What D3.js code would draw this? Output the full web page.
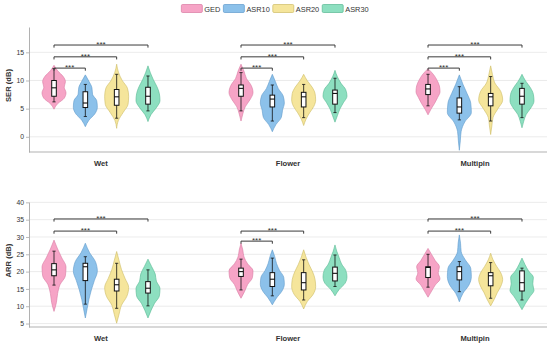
<!doctype html>
<html>
<head>
<meta charset="UTF-8">
<title>SER / ARR violins</title>
<script src="https://cdnjs.cloudflare.com/ajax/libs/d3/7.8.5/d3.min.js"></script>
<style>
  body { margin: 0; background: #ffffff; }
  text { font-family: "Liberation Sans", Arial, sans-serif; }
</style>
</head>
<body>
<script>

// -------------------------------------- data

var groups = ["Wet", "Flower", "Multipin"];
var methods = ["GED", "ASR10", "ASR20", "ASR30"];

// SER (dB) -- violin extent [min, max], by group then method
var serExtent = [
  [[4.9, 12.7], [1.8, 11.0], [1.5, 12.9], [2.7, 12.6]],
  [[2.8, 12.9], [0.9, 11.1], [2.0, 11.1], [2.6, 11.8]],
  [[3.9, 12.1], [-2.4, 11.0], [0.4, 12.6], [1.6, 11.1]]
];
// relative density, from min (first) to max (last)
var serDensity = [
  [[0, 0.3, 0.85, 1.0, 0.85, 0.95, 0.75, 0.3, 0],
   [0, 0.3, 0.8, 1.0, 0.95, 0.6, 0.55, 0.3, 0],
   [0, 0.15, 0.55, 0.95, 1.0, 0.9, 0.45, 0.15, 0],
   [0, 0.25, 0.7, 1.0, 0.95, 0.75, 0.45, 0.2, 0]],
  [[0, 0.15, 0.35, 0.75, 1.0, 0.85, 0.45, 0.25, 0],
   [0, 0.3, 0.75, 0.85, 1.0, 0.9, 0.5, 0.25, 0],
   [0, 0.2, 0.5, 0.85, 1.0, 0.95, 0.7, 0.3, 0],
   [0, 0.2, 0.4, 0.7, 1.0, 0.9, 0.5, 0.2, 0]],
  [[0, 0.25, 0.55, 0.8, 1.0, 0.95, 0.75, 0.45, 0],
   [0, 0.08, 0.15, 0.45, 1.0, 0.95, 0.65, 0.3, 0],
   [0, 0.1, 0.2, 0.6, 1.0, 0.85, 0.35, 0.15, 0],
   [0, 0.15, 0.35, 0.75, 1.0, 0.95, 0.7, 0.3, 0]]
];
// box: [whisker low, q1, median, q3, whisker high]
var serBox = [
  [[6.2, 7.2, 8.7, 10.0, 12.1], [3.6, 5.2, 6.0, 8.0, 9.3], [3.3, 5.6, 7.1, 8.4, 11.1], [4.6, 5.8, 7.2, 8.8, 10.8]],
  [[4.6, 7.2, 8.6, 9.2, 11.4], [2.8, 5.3, 6.7, 7.4, 9.2], [3.4, 5.3, 7.1, 7.9, 9.3], [4.3, 5.8, 7.7, 8.3, 10.4]],
  [[5.5, 7.5, 8.5, 9.3, 11.1], [3.0, 4.2, 5.3, 6.9, 8.9], [2.8, 5.5, 7.1, 7.7, 10.7], [3.4, 5.8, 7.2, 8.6, 9.5]]
];
// significance brackets: [group, from, to, level]
var serSig = [
  ["Wet", "GED", "ASR10", 12.2], ["Wet", "GED", "ASR20", 14.2], ["Wet", "GED", "ASR30", 16.3],
  ["Flower", "GED", "ASR10", 12.2], ["Flower", "GED", "ASR20", 14.2], ["Flower", "GED", "ASR30", 16.3],
  ["Multipin", "GED", "ASR10", 12.2], ["Multipin", "GED", "ASR20", 14.2], ["Multipin", "GED", "ASR30", 16.3]
];
var serTicks = [0, 5, 10, 15];

// ARR (dB)
var arrExtent = [
  [[8.5, 29.1], [6.6, 28.2], [5.1, 25.8], [6.6, 23.6]],
  [[12.3, 28.2], [10.4, 26.3], [9.2, 26.3], [13.0, 27.7]],
  [[12.6, 26.7], [11.3, 30.6], [10.1, 25.3], [9.0, 23.9]]
];
var arrDensity = [
  [[0, 0.2, 0.3, 0.5, 0.95, 1.0, 0.65, 0.3, 0],
   [0, 0.15, 0.3, 0.5, 0.75, 1.0, 0.85, 0.35, 0],
   [0, 0.2, 0.4, 0.85, 1.0, 0.7, 0.4, 0.2, 0],
   [0, 0.25, 0.55, 0.95, 1.0, 0.7, 0.6, 0.3, 0]],
  [[0, 0.3, 0.55, 0.95, 1.0, 0.55, 0.25, 0.15, 0],
   [0, 0.35, 0.8, 1.0, 0.95, 0.6, 0.35, 0.2, 0],
   [0, 0.3, 0.8, 1.0, 0.95, 0.75, 0.45, 0.2, 0],
   [0, 0.35, 0.85, 1.0, 0.9, 0.55, 0.35, 0.15, 0]],
  [[0, 0.3, 0.6, 1.0, 0.85, 0.95, 0.6, 0.3, 0],
   [0, 0.3, 0.8, 1.0, 0.95, 0.5, 0.15, 0.1, 0],
   [0, 0.3, 0.55, 0.85, 1.0, 0.85, 0.5, 0.2, 0],
   [0, 0.3, 0.65, 1.0, 0.9, 0.95, 0.55, 0.25, 0]]
];
var arrBox = [
  [[16.1, 18.8, 20.5, 22.3, 25.9], [10.6, 17.4, 21.4, 22.4, 24.3], [9.4, 14.4, 16.2, 17.8, 22.4], [10.1, 13.8, 15.2, 17.1, 20.5]],
  [[14.7, 18.6, 20.0, 21.0, 23.6], [13.0, 15.7, 17.8, 19.7, 23.9], [11.8, 14.7, 16.8, 19.7, 23.4], [15.7, 17.3, 19.5, 21.3, 24.8]],
  [[15.5, 18.3, 21.2, 21.4, 25.0], [14.2, 17.6, 20.0, 21.4, 22.9], [12.3, 15.9, 18.8, 19.7, 22.6], [11.8, 14.4, 16.8, 20.2, 21.0]]
];
var arrSig = [
  ["Wet", "GED", "ASR20", 31.7], ["Wet", "GED", "ASR30", 35.2],
  ["Flower", "GED", "ASR10", 28.8], ["Flower", "GED", "ASR20", 31.7],
  ["Multipin", "GED", "ASR20", 31.7], ["Multipin", "GED", "ASR30", 35.2]
];
var arrTicks = [5, 10, 15, 20, 25, 30, 35, 40];

// -------------------------------------- colors

var fill_cols = { GED: "#f6a4c6", ASR10: "#8cc1ea", ASR20: "#f5e59b", ASR30: "#8ddfc0" };
var edge_cols = { GED: "#d87aa2", ASR10: "#5f9acb", ASR20: "#cdbc65", ASR30: "#58b892" };
var grid_col = "#e6e6e6";
var spine_col = "#a8a8a8";
var text_col = "#333333";

// -------------------------------------- svg

var W = 550, H = 345;
var left = 29, right = 547;

var svg = d3.select("body").append("svg")
  .attr("width", W)
  .attr("height", H)
  .style("display", "block");

var x = d3.scalePoint()
  .domain(groups)
  .range([left, right])
  .padding(0.385);

var hue = d3.scaleBand()
  .domain(methods)
  .range([-0.335 * x.step(), 0.335 * x.step()]);

var halfW = d3.scaleLinear().domain([0, 1]).range([0, 12]);

function cx(g, m) { return x(g) + hue(m) + hue.bandwidth() / 2; }

// -------------------------------------- legend

var legend = svg.append("g");
var lx = 0;
methods.forEach(function(m) {
  var item = legend.append("g").attr("transform", "translate(" + lx + ",0)");
  item.append("rect")
    .attr("x", 0).attr("y", 4.5)
    .attr("width", 21).attr("height", 8)
    .attr("rx", 1.2)
    .style("fill", fill_cols[m])
    .style("stroke", edge_cols[m])
    .style("stroke-width", 0.7);
  var t = item.append("text")
    .attr("x", 23).attr("y", 11.6)
    .text(m)
    .style("font-size", "7.4px")
    .style("fill", text_col);
  lx += 23 + t.node().getComputedTextLength() + 3;
});
legend.attr("transform", "translate(" + ((W - (lx - 3)) / 2) + ",0)");

// -------------------------------------- panels

var panels = [
  { label: "SER (dB)", ext: serExtent, dens: serDensity, box: serBox, sig: serSig,
    ticks: serTicks, domain: [-2.7, 19.5], top: 27, bottom: 152 },
  { label: "ARR (dB)", ext: arrExtent, dens: arrDensity, box: arrBox, sig: arrSig,
    ticks: arrTicks, domain: [4.0, 40.1], top: 202, bottom: 327 }
];

panels.forEach(drawPanel);

function drawPanel(p) {
  var y = d3.scaleLinear().domain(p.domain).range([p.bottom, p.top]);
  var g = svg.append("g");

  // grid
  g.selectAll("line.grid")
    .data(p.ticks)
    .enter().append("line")
    .attr("class", "grid")
    .attr("x1", left).attr("x2", right)
    .attr("y1", d => y(d)).attr("y2", d => y(d))
    .style("stroke", grid_col)
    .style("stroke-width", 0.8);

  // y axis
  var ax = g.append("g")
    .attr("transform", "translate(" + left + ",0)")
    .call(d3.axisLeft(y).tickValues(p.ticks).tickSize(3).tickSizeOuter(0).tickPadding(2));
  ax.select(".domain").style("stroke", spine_col).style("stroke-width", 0.9);
  ax.selectAll(".tick line").style("stroke", spine_col).style("stroke-width", 0.8);
  ax.selectAll(".tick text")
    .style("font-family", "'Liberation Sans', Arial, sans-serif")
    .style("font-size", "6.8px")
    .style("fill", text_col);

  // bottom spine
  g.append("line")
    .attr("x1", left).attr("x2", right)
    .attr("y1", p.bottom).attr("y2", p.bottom)
    .style("stroke", spine_col)
    .style("stroke-width", 0.9);

  // y label
  g.append("text")
    .attr("transform", "translate(11," + ((p.top + p.bottom) / 2 - 4) + ") rotate(-90)")
    .attr("text-anchor", "middle")
    .text(p.label)
    .style("font-size", "7.6px")
    .style("font-weight", "bold")
    .style("fill", text_col);

  // category labels
  g.selectAll("text.cat")
    .data(groups)
    .enter().append("text")
    .attr("class", "cat")
    .attr("x", d => x(d))
    .attr("y", p.bottom + 14)
    .attr("text-anchor", "middle")
    .text(d => d)
    .style("font-size", "7.6px")
    .style("font-weight", "bold")
    .style("fill", text_col);

  // violins
  var cells = [];
  groups.forEach(function(gr, gi) {
    methods.forEach(function(m, mi) {
      var ext = p.ext[gi][mi], dens = p.dens[gi][mi];
      var step = (ext[1] - ext[0]) / (dens.length - 1);
      cells.push({
        group: gr, method: m, box: p.box[gi][mi],
        prof: dens.map((d, i) => ({ v: ext[0] + i * step, w: d }))
      });
    });
  });

  var area = d3.area()
    .curve(d3.curveMonotoneY)
    .y(d => y(d.v));

  g.selectAll("path.violin")
    .data(cells)
    .enter().append("path")
    .attr("class", "violin")
    .attr("d", function(c) {
      var c0 = cx(c.group, c.method);
      return area.x0(d => c0 - halfW(d.w)).x1(d => c0 + halfW(d.w))(c.prof);
    })
    .style("fill", c => fill_cols[c.method])
    .style("stroke", c => edge_cols[c.method])
    .style("stroke-width", 0.6);

  // boxes
  var bw = 4.6, cap = 1.6;
  var boxes = g.selectAll("g.box")
    .data(cells)
    .enter().append("g")
    .attr("class", "box")
    .attr("transform", c => "translate(" + cx(c.group, c.method) + ",0)");

  boxes.append("line")
    .attr("x1", 0).attr("x2", 0)
    .attr("y1", c => y(c.box[0])).attr("y2", c => y(c.box[4]))
    .style("stroke", "#111").style("stroke-width", 0.8);
  boxes.append("line")
    .attr("x1", -cap).attr("x2", cap)
    .attr("y1", c => y(c.box[0])).attr("y2", c => y(c.box[0]))
    .style("stroke", "#111").style("stroke-width", 0.8);
  boxes.append("line")
    .attr("x1", -cap).attr("x2", cap)
    .attr("y1", c => y(c.box[4])).attr("y2", c => y(c.box[4]))
    .style("stroke", "#111").style("stroke-width", 0.8);
  boxes.append("rect")
    .attr("x", -bw / 2).attr("width", bw)
    .attr("y", c => y(c.box[3]))
    .attr("height", c => y(c.box[1]) - y(c.box[3]))
    .style("fill", "#ffffff")
    .style("stroke", "#111")
    .style("stroke-width", 1);
  boxes.append("line")
    .attr("x1", -bw / 2).attr("x2", bw / 2)
    .attr("y1", c => y(c.box[2])).attr("y2", c => y(c.box[2]))
    .style("stroke", "#111").style("stroke-width", 1.1);

  // significance brackets
  var drop = 2.6;
  var sig = g.selectAll("g.sig")
    .data(p.sig)
    .enter().append("g")
    .attr("class", "sig");
  sig.append("path")
    .attr("d", function(s) {
      var x1 = cx(s[0], s[1]), x2 = cx(s[0], s[2]), yy = y(s[3]);
      return "M" + x1 + "," + (yy + drop) + "V" + yy + "H" + x2 + "V" + (yy + drop);
    })
    .style("fill", "none")
    .style("stroke", "#3a3a3a")
    .style("stroke-width", 1);
  sig.append("text")
    .attr("x", s => (cx(s[0], s[1]) + cx(s[0], s[2])) / 2)
    .attr("y", s => y(s[3]) + 2)
    .attr("text-anchor", "middle")
    .text("***")
    .style("font-size", "8px")
    .style("fill", text_col);
}

</script>
</body>
</html>
